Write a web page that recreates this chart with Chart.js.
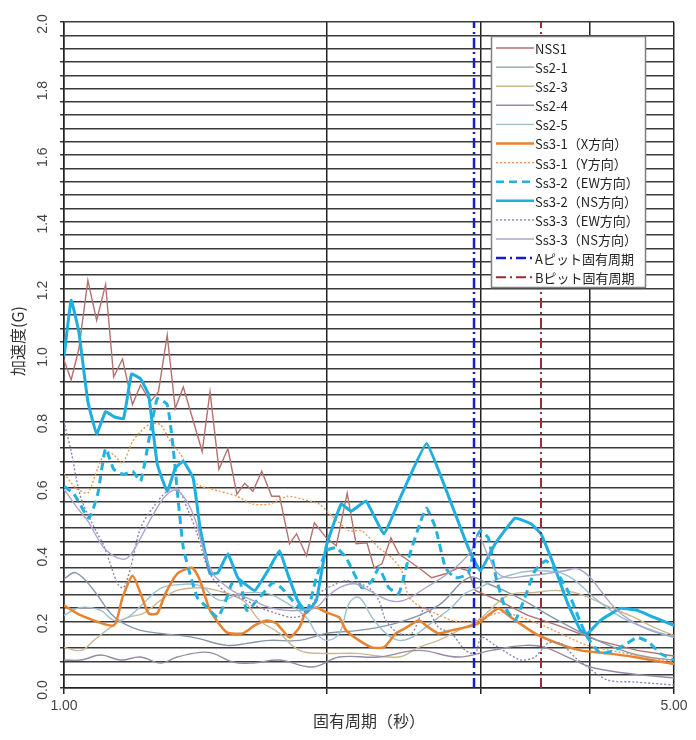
<!DOCTYPE html>
<html><head><meta charset="utf-8">
<script src="https://cdn.jsdelivr.net/npm/chart.js@4.4.1/dist/chart.umd.min.js"></script>
<style>html,body{margin:0;padding:0;background:#fff}#wrap{width:696px;height:740px;position:relative}</style>
</head><body><div id="wrap"><canvas id="c" width="696" height="740"></canvas></div>
<script>
// ---- data: [period (s), acceleration (G)] ----
const NSS1 = [[1.000,0.985],[1.019,0.925],[1.040,1.018],[1.065,1.224],[1.090,1.104],[1.116,1.212],[1.140,0.934],[1.167,0.988],[1.198,0.851],[1.224,0.910],[1.256,0.860],[1.283,0.890],[1.313,1.060],[1.341,0.839],[1.370,0.904],[1.440,0.710],[1.470,0.890],[1.505,0.657],[1.541,0.719],[1.578,0.582],[1.611,0.615],[1.646,0.591],[1.685,0.651],[1.730,0.576],[1.766,0.576],[1.813,0.433],[1.847,0.463],[1.896,0.397],[1.936,0.496],[1.998,0.451],[2.051,0.427],[2.111,0.585],[2.161,0.433],[2.224,0.436],[2.266,0.361],[2.314,0.373],[2.369,0.451],[2.419,0.403],[2.483,0.382],[2.549,0.361],[2.638,0.331],[2.736,0.343],[2.831,0.361],[2.906,0.352],[2.960,0.293],[3.144,0.263],[3.401,0.218],[3.680,0.188],[4.086,0.143],[4.538,0.113],[5.000,0.096]];
const SS2_1 = [[1.000,0.328],[1.032,0.346],[1.082,0.293],[1.131,0.224],[1.170,0.194],[1.224,0.173],[1.290,0.164],[1.406,0.152],[1.537,0.128],[1.620,0.134],[1.720,0.143],[1.861,0.143],[1.998,0.164],[2.178,0.173],[2.419,0.197],[2.686,0.248],[2.906,0.331],[3.063,0.313],[3.313,0.272],[3.680,0.203],[4.086,0.143],[4.538,0.099],[5.000,0.084]];
const SS2_3 = [[1.000,0.122],[1.046,0.113],[1.082,0.143],[1.131,0.182],[1.183,0.212],[1.233,0.224],[1.290,0.263],[1.348,0.293],[1.432,0.301],[1.497,0.293],[1.603,0.263],[1.676,0.203],[1.766,0.164],[1.861,0.113],[1.977,0.104],[2.161,0.104],[2.419,0.093],[2.549,0.122],[2.686,0.143],[2.831,0.173],[2.983,0.203],[3.227,0.278],[3.464,0.287],[3.680,0.293],[3.877,0.284],[4.228,0.242],[4.502,0.212],[4.744,0.182],[5.000,0.158]];
const SS2_4 = [[1.000,0.084],[1.046,0.084],[1.102,0.099],[1.161,0.084],[1.224,0.093],[1.290,0.075],[1.348,0.093],[1.432,0.107],[1.482,0.104],[1.561,0.078],[1.646,0.075],[1.766,0.084],[1.926,0.063],[2.067,0.093],[2.295,0.093],[2.549,0.113],[2.831,0.093],[3.087,0.113],[3.374,0.128],[3.556,0.122],[3.777,0.093],[4.012,0.063],[4.386,0.045],[5.000,0.030]];
const SS2_5 = [[1.000,0.218],[1.046,0.242],[1.102,0.233],[1.140,0.203],[1.183,0.212],[1.233,0.254],[1.290,0.299],[1.348,0.310],[1.432,0.307],[1.509,0.263],[1.590,0.284],[1.707,0.284],[1.780,0.263],[1.896,0.212],[1.946,0.164],[1.998,0.143],[2.067,0.164],[2.122,0.254],[2.178,0.272],[2.254,0.212],[2.338,0.164],[2.419,0.143],[2.503,0.152],[2.596,0.182],[2.686,0.212],[2.780,0.242],[2.883,0.284],[2.983,0.301],[3.227,0.337],[3.492,0.352],[3.777,0.337],[4.086,0.263],[4.420,0.203],[5.000,0.152]];
const SS3_1X = [[1.000,0.248],[1.046,0.218],[1.140,0.188],[1.167,0.272],[1.198,0.337],[1.224,0.284],[1.250,0.224],[1.279,0.224],[1.307,0.284],[1.348,0.343],[1.402,0.361],[1.432,0.322],[1.470,0.233],[1.537,0.167],[1.603,0.164],[1.654,0.188],[1.707,0.203],[1.752,0.194],[1.813,0.152],[1.861,0.182],[1.896,0.233],[1.946,0.242],[1.998,0.227],[2.067,0.212],[2.105,0.173],[2.178,0.143],[2.254,0.122],[2.326,0.122],[2.400,0.164],[2.470,0.182],[2.549,0.203],[2.617,0.182],[2.686,0.164],[2.780,0.173],[2.883,0.182],[2.983,0.194],[3.144,0.239],[3.253,0.212],[3.464,0.164],[3.680,0.134],[3.908,0.113],[4.195,0.104],[4.502,0.093],[5.000,0.072]];
const SS3_1Y = [[1.000,0.645],[1.032,0.600],[1.065,0.585],[1.093,0.660],[1.116,0.710],[1.140,0.701],[1.167,0.675],[1.198,0.740],[1.224,0.770],[1.256,0.794],[1.290,0.791],[1.324,0.740],[1.359,0.704],[1.421,0.612],[1.509,0.591],[1.578,0.576],[1.646,0.552],[1.720,0.552],[1.804,0.576],[1.876,0.567],[1.961,0.552],[2.029,0.516],[2.122,0.472],[2.195,0.472],[2.295,0.421],[2.375,0.391],[2.438,0.352],[2.483,0.272],[2.569,0.242],[2.665,0.224],[2.780,0.203],[2.906,0.197],[3.185,0.227],[3.538,0.188],[3.980,0.128],[5.000,0.078]];
const SS3_2EW = [[1.000,0.606],[1.027,0.582],[1.068,0.510],[1.093,0.582],[1.116,0.719],[1.140,0.657],[1.170,0.642],[1.198,0.651],[1.224,0.621],[1.250,0.740],[1.279,0.869],[1.313,0.851],[1.334,0.719],[1.370,0.421],[1.421,0.272],[1.459,0.242],[1.501,0.212],[1.537,0.272],[1.557,0.313],[1.590,0.322],[1.620,0.233],[1.676,0.272],[1.734,0.316],[1.775,0.301],[1.827,0.263],[1.896,0.227],[1.946,0.331],[1.998,0.412],[2.051,0.421],[2.105,0.391],[2.195,0.301],[2.254,0.322],[2.295,0.361],[2.356,0.301],[2.419,0.284],[2.483,0.391],[2.563,0.501],[2.603,0.540],[2.665,0.481],[2.736,0.361],[2.809,0.331],[2.906,0.343],[2.960,0.442],[2.999,0.472],[3.063,0.451],[3.127,0.331],[3.202,0.242],[3.287,0.203],[3.374,0.272],[3.464,0.352],[3.565,0.382],[3.660,0.352],[3.777,0.293],[3.898,0.203],[3.980,0.152],[4.118,0.104],[4.272,0.113],[4.420,0.134],[4.538,0.152],[4.683,0.137],[4.820,0.104],[5.000,0.084]];
const SS3_2NS = [[1.000,0.994],[1.019,1.164],[1.040,1.069],[1.065,0.860],[1.090,0.764],[1.116,0.830],[1.140,0.815],[1.170,0.809],[1.195,0.943],[1.224,0.928],[1.250,0.881],[1.279,0.672],[1.313,0.591],[1.341,0.660],[1.370,0.681],[1.406,0.630],[1.432,0.481],[1.470,0.343],[1.501,0.346],[1.541,0.403],[1.582,0.331],[1.654,0.293],[1.720,0.361],[1.766,0.412],[1.804,0.343],[1.852,0.263],[1.896,0.227],[1.946,0.263],[1.998,0.427],[2.078,0.552],[2.133,0.531],[2.219,0.561],[2.326,0.463],[2.438,0.582],[2.603,0.734],[2.780,0.552],[2.906,0.421],[2.999,0.352],[3.119,0.433],[3.287,0.510],[3.428,0.493],[3.519,0.463],[3.651,0.361],[3.777,0.254],[3.908,0.173],[3.980,0.164],[4.118,0.203],[4.340,0.239],[4.538,0.233],[4.744,0.212],[5.000,0.188]];
const SS3_3EW = [[1.000,0.800],[1.019,0.710],[1.046,0.570],[1.088,0.472],[1.111,0.427],[1.152,0.313],[1.170,0.301],[1.192,0.361],[1.224,0.481],[1.273,0.552],[1.313,0.591],[1.348,0.600],[1.384,0.540],[1.421,0.463],[1.470,0.343],[1.537,0.284],[1.590,0.272],[1.676,0.242],[1.752,0.224],[1.827,0.212],[1.896,0.224],[1.961,0.284],[2.051,0.313],[2.105,0.322],[2.178,0.313],[2.236,0.301],[2.295,0.263],[2.338,0.203],[2.419,0.164],[2.503,0.164],[2.596,0.242],[2.686,0.182],[2.780,0.164],[2.883,0.113],[2.960,0.104],[3.007,0.152],[3.119,0.128],[3.227,0.104],[3.339,0.084],[3.464,0.093],[3.584,0.134],[3.708,0.134],[3.847,0.093],[3.980,0.063],[4.195,0.024],[4.502,0.018],[5.000,0.009]];
const SS3_3NS = [[1.000,0.597],[1.032,0.546],[1.065,0.501],[1.111,0.421],[1.152,0.391],[1.183,0.391],[1.224,0.451],[1.266,0.522],[1.313,0.582],[1.352,0.591],[1.406,0.522],[1.443,0.421],[1.482,0.343],[1.521,0.313],[1.578,0.284],[1.646,0.263],[1.720,0.242],[1.799,0.233],[1.861,0.233],[1.946,0.242],[1.998,0.272],[2.067,0.301],[2.150,0.313],[2.236,0.293],[2.356,0.263],[2.451,0.263],[2.596,0.301],[2.780,0.352],[2.929,0.412],[2.983,0.457],[3.063,0.397],[3.169,0.337],[3.401,0.337],[3.748,0.352],[3.877,0.358],[4.012,0.331],[4.118,0.293],[4.272,0.242],[4.456,0.203],[4.695,0.173],[5.000,0.152]];

const seriesLabels = ['NSS1','Ss2-1','Ss2-3','Ss2-4','Ss2-5','Ss3-1（X方向）','Ss3-1（Y方向）','Ss3-2（EW方向）','Ss3-2（NS方向）','Ss3-3（EW方向）','Ss3-3（NS方向）'];
const seriesValues = [NSS1, SS2_1, SS2_3, SS2_4, SS2_5, SS3_1X, SS3_1Y, SS3_2EW, SS3_2NS, SS3_3EW, SS3_3NS];
const pitLabels = ['Aピット固有周期','Bピット固有周期'];
const pitPeriods = [2.95, 3.52];

const periodGridValues = [1, 2, 3, 4, 5];
const periodTickLabels = {1: '1.00', 5: '5.00'};
const accelLabelValues = [0,0.2,0.4,0.6,0.8,1.0,1.2,1.4,1.6,1.8,2.0];
const accelTickLabels = ['0.0','0.2','0.4','0.6','0.8','1.0','1.2','1.4','1.6','1.8','2.0'];
const accelGridStep = 0.04;
const xTitle = '固有周期（秒）';
const yTitle = '加速度(G)';

// ---- styles ----
const seriesStyles = [
  {color:'#b3716f', width:1.4, dash:[], tension:0},
  {color:'#8797aa', width:1.4, dash:[], tension:0.4},
  {color:'#cbb893', width:1.4, dash:[], tension:0.4},
  {color:'#958ba6', width:1.4, dash:[], tension:0.4},
  {color:'#9cc0d2', width:1.4, dash:[], tension:0.4},
  {color:'#e8822e', width:2.5, dash:[], tension:0.2},
  {color:'#e99a55', width:1.4, dash:[2,2], tension:0.2},
  {color:'#22b2e0', width:3, dash:[8,5], tension:0.15},
  {color:'#1eaee0', width:3, dash:[], tension:0.1},
  {color:'#8c84b0', width:1.4, dash:[2,2], tension:0.3},
  {color:'#aaa5cc', width:1.4, dash:[], tension:0.4}
];
const pitStyles = [
  {color:'#1a1ad0', width:2.5, dash:[10,4,2,4]},
  {color:'#a02838', width:2, dash:[10,4,2,4]}
];

const datasets = [];
seriesValues.forEach((arr, i) => {
  const s = seriesStyles[i];
  datasets.push({label: seriesLabels[i], data: arr.map(([x,y]) => ({x, y})),
    borderColor: s.color, backgroundColor: s.color, borderWidth: s.width, borderDash: s.dash,
    tension: s.tension, pointRadius: 0, fill: false, order: -i});
});
pitPeriods.forEach((p, k) => {
  const s = pitStyles[k];
  datasets.push({label: pitLabels[k], data: [{x: p, y: 0}, {x: p, y: 2}],
    borderColor: s.color, backgroundColor: s.color, borderWidth: s.width, borderDash: s.dash,
    pointRadius: 0, fill: false, order: -(seriesValues.length + k)});
});

const boxLegend = {
  id: 'boxLegend',
  afterDatasetsDraw(chart) {
    const ctx = chart.ctx;
    const x0 = 491.5, y0 = 36.5, w = 154, h = 251;
    ctx.save();
    ctx.fillStyle = '#ffffff';
    ctx.fillRect(x0, y0, w, h);
    ctx.strokeStyle = '#808080';
    ctx.lineWidth = 1.5;
    ctx.strokeRect(x0, y0, w, h);
    chart.data.datasets.forEach((ds, i) => {
      const y = 48 + i * 19.1;
      ctx.beginPath();
      ctx.setLineDash(ds.borderDash || []);
      ctx.strokeStyle = ds.borderColor;
      ctx.lineWidth = Math.min(ds.borderWidth, 2.6);
      ctx.moveTo(496, y); ctx.lineTo(534, y);
      ctx.stroke();
      ctx.setLineDash([]);
      ctx.fillStyle = '#222';
      ctx.font = '13px "Noto Sans CJK JP"';
      ctx.textAlign = 'left';
      ctx.textBaseline = 'middle';
      ctx.fillText(ds.label, 535, y + 1);
    });
    ctx.restore();
  }
};

const yLabelsPlugin = {
  id: 'yLabels',
  afterDraw(chart) {
    const ctx = chart.ctx, ys = chart.scales.y;
    ctx.save();
    ctx.fillStyle = '#444';
    ctx.font = '14px "Liberation Sans"';
    ctx.textAlign = 'center';
    ctx.textBaseline = 'middle';
    accelLabelValues.forEach((v, i) => {
      ctx.save();
      ctx.translate(43, ys.getPixelForValue(v) + 2);
      ctx.rotate(-Math.PI / 2);
      ctx.fillText(accelTickLabels[i], 0, 0);
      ctx.restore();
    });
    ctx.font = '16px "Noto Sans CJK JP"';
    ctx.fillStyle = '#333';
    ctx.translate(18, 341);
    ctx.rotate(-Math.PI / 2);
    ctx.fillText(yTitle, 0, 0);
    ctx.restore();
  }
};

new Chart(document.getElementById('c'), {
  type: 'line',
  data: {datasets},
  options: {
    responsive: false, animation: false, devicePixelRatio: 1,
    layout: {padding: {top: 22, right: 22, left: 0, bottom: 0}},
    plugins: {legend: {display: false}, tooltip: {enabled: false}},
    scales: {
      x: {
        type: 'logarithmic', min: 1, max: 5,
        afterBuildTicks: s => { s.ticks = periodGridValues.map(v => ({value: v})); },
        afterFit: s => { s.height = 52; },
        ticks: {autoSkip: false, maxRotation: 0, padding: 4, color: '#444',
          font: {family: 'Liberation Sans', size: 14},
          callback: v => periodTickLabels[v] || ''},
        grid: {color: '#222', lineWidth: 1.5, drawTicks: true, tickLength: 6},
        border: {display: true, color: '#222', width: 1.5},
        title: {display: true, text: xTitle, color: '#333', font: {family: 'Noto Sans CJK JP', size: 16}, padding: {top: 0, bottom: 9}}
      },
      y: {
        type: 'linear', min: 0, max: 2,
        afterBuildTicks: s => {
          const t = [];
          for (let k = 0; k <= 50; k++) t.push({value: +(k * accelGridStep).toFixed(2)});
          s.ticks = t;
        },
        afterFit: s => { s.width = 64; },
        ticks: {display: false},
        grid: {color: '#3a3a3a', lineWidth: 1.5, drawTicks: true, tickLength: 4},
        border: {display: true, color: '#222', width: 1.5}
      }
    }
  },
  plugins: [boxLegend, yLabelsPlugin]
});
</script></body></html>
